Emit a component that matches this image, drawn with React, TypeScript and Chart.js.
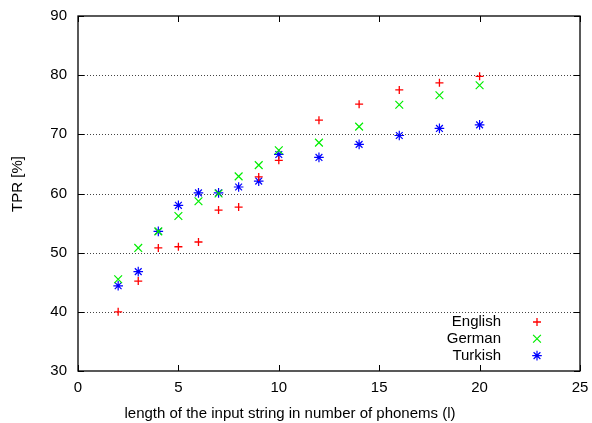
import React, { useEffect, useRef } from "react";
import { Chart, registerables } from "chart.js";
import { drawPoint } from "chart.js/helpers";

Chart.register(...registerables);

const lengths = [2, 3, 4, 5, 6, 7, 8, 9, 10, 12, 14, 16, 18, 20];
const english = [40.0, 45.2, 50.8, 51.0, 51.8, 57.2, 57.7, 62.8, 65.6, 72.4, 75.1, 77.5, 78.7, 79.8];
const german = [45.5, 50.8, 53.6, 56.2, 58.7, 60.0, 62.9, 64.8, 67.3, 68.6, 71.3, 75.0, 76.6, 78.3];
const turkish = [44.4, 46.8, 53.6, 58.0, 60.1, 60.1, 61.1, 62.1, 66.6, 66.1, 68.3, 69.8, 71.0, 71.6];
const seriesNames = ["English", "German", "Turkish"];
const xTicks = [0, 5, 10, 15, 20, 25];
const yTicks = [30, 40, 50, 60, 70, 80, 90];
const gridValues = [40, 50, 60, 70, 80];
const xTitle = "length of the input string in number of phonems (l)";
const yTitle = "TPR [%]";

const FONT = "'Liberation Sans', Arial, Helvetica, sans-serif";

const framePlugin = {
  id: "frame",
  beforeDatasetsDraw(chart: any) {
    const { ctx, chartArea } = chart;
    const ys = chart.scales.y;
    ctx.save();
    ctx.strokeStyle = "#444";
    ctx.lineWidth = 1;
    ctx.setLineDash([1, 2]);
    ctx.beginPath();
    gridValues.forEach((v) => {
      const py = Math.round(ys.getPixelForValue(v)) + 0.5;
      ctx.moveTo(chartArea.left, py);
      ctx.lineTo(chartArea.right, py);
    });
    ctx.stroke();
    ctx.restore();
  },
  afterDatasetsDraw(chart: any) {
    const { ctx, chartArea } = chart;
    const { left, right, top, bottom } = chartArea;
    const xs = chart.scales.x;
    const ys = chart.scales.y;
    ctx.save();
    ctx.strokeStyle = "#000";
    ctx.lineWidth = 1.3;
    ctx.strokeRect(left, top, right - left, bottom - top);
    ctx.lineWidth = 1;
    const tl = 6;
    ctx.beginPath();
    xTicks.forEach((v) => {
      const px = Math.round(xs.getPixelForValue(v)) + 0.5;
      ctx.moveTo(px, bottom);
      ctx.lineTo(px, bottom - tl);
      ctx.moveTo(px, top);
      ctx.lineTo(px, top + tl);
    });
    yTicks.forEach((v) => {
      const py = Math.round(ys.getPixelForValue(v)) + 0.5;
      ctx.moveTo(left, py);
      ctx.lineTo(left + tl, py);
      ctx.moveTo(right, py);
      ctx.lineTo(right - tl, py);
    });
    ctx.stroke();

    ctx.font = `15px ${FONT}`;
    ctx.fillStyle = "#000";
    ctx.textBaseline = "middle";
    ctx.textAlign = "center";
    ctx.fillText(xTitle, 290, 414);
    ctx.save();
    ctx.translate(18, 184);
    ctx.rotate(-Math.PI / 2);
    ctx.fillText(yTitle, 0, 0);
    ctx.restore();

    // legend inside plot
    ctx.textAlign = "right";
    const textRight = 501;
    const markX = 537;
    const baseY = 322;
    const step = 16.8;
    chart.data.datasets.forEach((ds: any, i: number) => {
      const y = baseY + i * step;
      ctx.fillStyle = "#000";
      ctx.fillText(ds.label, textRight, y);
      ctx.strokeStyle = ds.borderColor;
      ctx.fillStyle = ds.borderColor;
      ctx.lineWidth = ds.borderWidth;
      drawPoint(ctx, { pointStyle: ds.pointStyle, radius: ds.pointRadius, rotation: 0, borderWidth: ds.borderWidth }, markX, y);
    });
    ctx.restore();
  },
};

function toPoints(vals: number[]) {
  return lengths.map((x, i) => ({ x, y: vals[i] }));
}

export default function App() {
  const ref = useRef<HTMLCanvasElement>(null);
  useEffect(() => {
    document.body.style.margin = "0";
    const canvas = ref.current!;
    const chart = new Chart(canvas, {
      type: "scatter",
      data: {
        datasets: [
          { label: seriesNames[0], data: toPoints(english), pointStyle: "cross", pointRadius: 4, borderColor: "#ff0000", backgroundColor: "#ff0000", borderWidth: 1.3 },
          { label: seriesNames[1], data: toPoints(german), pointStyle: "crossRot", pointRadius: 5.5, borderColor: "#00ee00", backgroundColor: "#00ee00", borderWidth: 1.2 },
          { label: seriesNames[2], data: toPoints(turkish), pointStyle: "star", pointRadius: 4.8, borderColor: "#0000ff", backgroundColor: "#0000ff", borderWidth: 1.2 },
        ] as any,
      },
      options: {
        responsive: false,
        animation: false,
        events: [],
        layout: { padding: { top: 16, right: 12, left: 0, bottom: 0 } },
        plugins: { legend: { display: false }, tooltip: { enabled: false } },
        scales: {
          x: {
            type: "linear",
            min: 0,
            max: 25,
            afterBuildTicks: (s: any) => { s.ticks = xTicks.map((v) => ({ value: v })); },
            afterFit: (s: any) => { s.height = 52; s.paddingLeft = 0; s.paddingRight = 0; },
            grid: { display: false, drawTicks: false },
            border: { display: false },
            ticks: { color: "#000", padding: 8, font: { family: FONT, size: 15 } },
          },
          y: {
            type: "linear",
            min: 30,
            max: 90,
            afterBuildTicks: (s: any) => { s.ticks = yTicks.map((v) => ({ value: v })); },
            afterFit: (s: any) => { s.width = 78; s.paddingTop = 0; s.paddingBottom = 0; },
            grid: { display: false, drawTicks: false },
            border: { display: false },
            ticks: { color: "#000", padding: 11, font: { family: FONT, size: 15 } },
          },
        },
      },
      plugins: [framePlugin],
    });
    return () => chart.destroy();
  }, []);
  return (
    <div style={{ width: 592, height: 423 }}>
      <canvas ref={ref} width={592} height={423} style={{ display: "block" }} />
    </div>
  );
}
